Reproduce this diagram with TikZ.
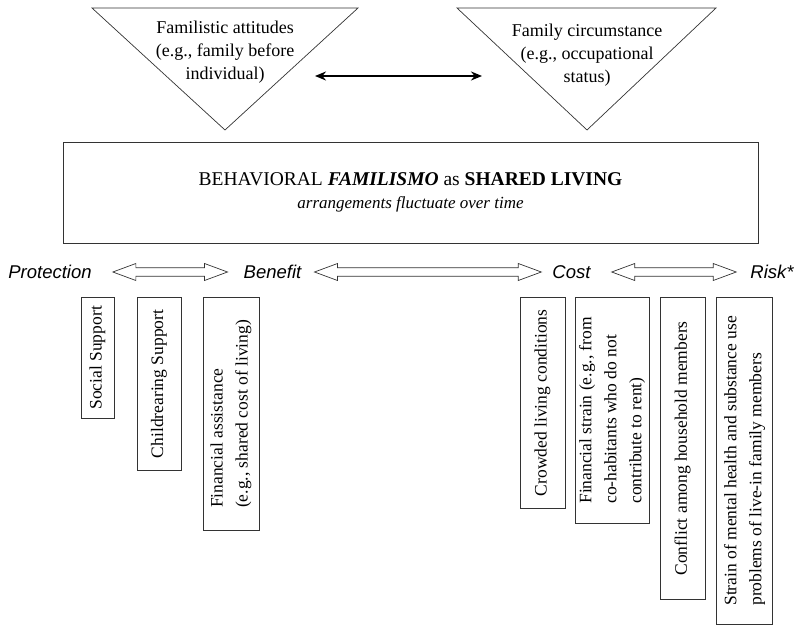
\documentclass[tikz,border=0pt]{standalone}
\usepackage{fontspec}
\setmainfont{Liberation Serif}
\newfontfamily\labelfont{Liberation Sans}
\usetikzlibrary{arrows.meta,calc}

\tikzset{
  itembox/.style={draw=black!80, line width=0.8pt, rotate=90, anchor=east,
    align=left, inner sep=0pt, font=\fontsize{17.5}{25}\selectfont},
  rowlabel/.style={inner sep=0pt, font=\labelfont\itshape\fontsize{18.5}{22}\selectfont},
  tritext/.style={align=center, inner sep=0pt, font=\fontsize{18}{23}\selectfont},
}

% hollow two-headed arrow between two points
\newcommand{\fatarrow}[2]{%
  \path #1 coordinate (fa-l) #2 coordinate (fa-r);
  \draw[black!80, line width=0.7pt] (fa-l) -- ++(23,-8.5) -- ++(0,4.25)
    -- ($(fa-r)+(-23,-4.25)$) -- ++(0,-4.25) -- (fa-r) -- ++(-23,8.5)
    -- ++(0,-4.25) -- ($(fa-l)+(23,4.25)$) -- ++(0,4.25) -- cycle;}

\begin{document}
\begin{tikzpicture}[x=1pt, y=-1pt]
    \useasboundingbox (0, 0) rectangle (799, 631);

    % the two influences
    \draw[black!80, line width=0.7pt] (92, 8) -- (358, 8) -- (225, 130) -- cycle;
    \draw[black!80, line width=0.7pt] (457, 8) -- (716, 8) -- (587, 130) -- cycle;
    \node[tritext] (att) at (225, 52) {Familistic attitudes\\(e.g., family before\\individual)};
    \node[tritext] (circ) at (587, 55) {Family circumstance\\(e.g., occupational\\status)};

    \coordinate (attR) at (315, 76);
    \coordinate (circL) at (482, 76);
    \draw[line width=2.3pt, {Stealth[length=11pt,width=9pt]}-{Stealth[length=11pt,width=9pt]}] (attR) -- (circL);

    % shared living
    \node[draw=black!80, line width=0.8pt, minimum width=695, minimum height=101, align=center, inner sep=0pt]
      (shared) at (410.5, 192.5)
      {{\fontsize{19.5}{23}\selectfont BEHAVIORAL \textbf{\textit{FAMILISMO}} as \textbf{SHARED LIVING}}\\[10pt]
       {\fontsize{17}{20}\selectfont\itshape arrangements fluctuate over time}};

    % the scale
    \node[rowlabel] (prot) at (50, 272) {Protection};
    \node[rowlabel] (ben) at (272.5, 272) {Benefit};
    \node[rowlabel] (cost) at (571.5, 272) {Cost};
    \node[rowlabel] (risk) at (772, 272) {Risk*};

    \fatarrow{($(prot.east)+(21,0)$)}{($(ben.west)+(-16,0)$)}
    \fatarrow{($(ben.east)+(13,0)$)}{($(cost.west)+(-11,0)$)}
    \fatarrow{($(cost.east)+(21,0)$)}{($(risk.west)+(-14,0)$)}

    % benefits
    \node[itembox, minimum width=121, minimum height=33] (social) at (97.5, 297) {Social Support};
    \node[itembox, minimum width=173, minimum height=44] (child) at (159, 297) {Childrearing Support};
    \node[itembox, minimum width=233, minimum height=56] (finass) at (231, 297) {Financial assistance\\(e.g., shared cost of living)};

    % costs
    \node[itembox, minimum width=211, minimum height=45] (crowd) at (542.5, 297) {Crowded living conditions};
    \node[itembox, minimum width=226, minimum height=74] (finstr) at (612, 297) {Financial strain (e.g., from\\co-habitants who do not\\contribute to rent)};
    \node[itembox, minimum width=302, minimum height=45] (confl) at (682.5, 297) {Conflict among household members};
    \node[itembox, minimum width=327, minimum height=56] (mental) at (744.5, 297) {Strain of mental health and substance use\\problems of live-in family members};
  \end{tikzpicture}
\end{document}
